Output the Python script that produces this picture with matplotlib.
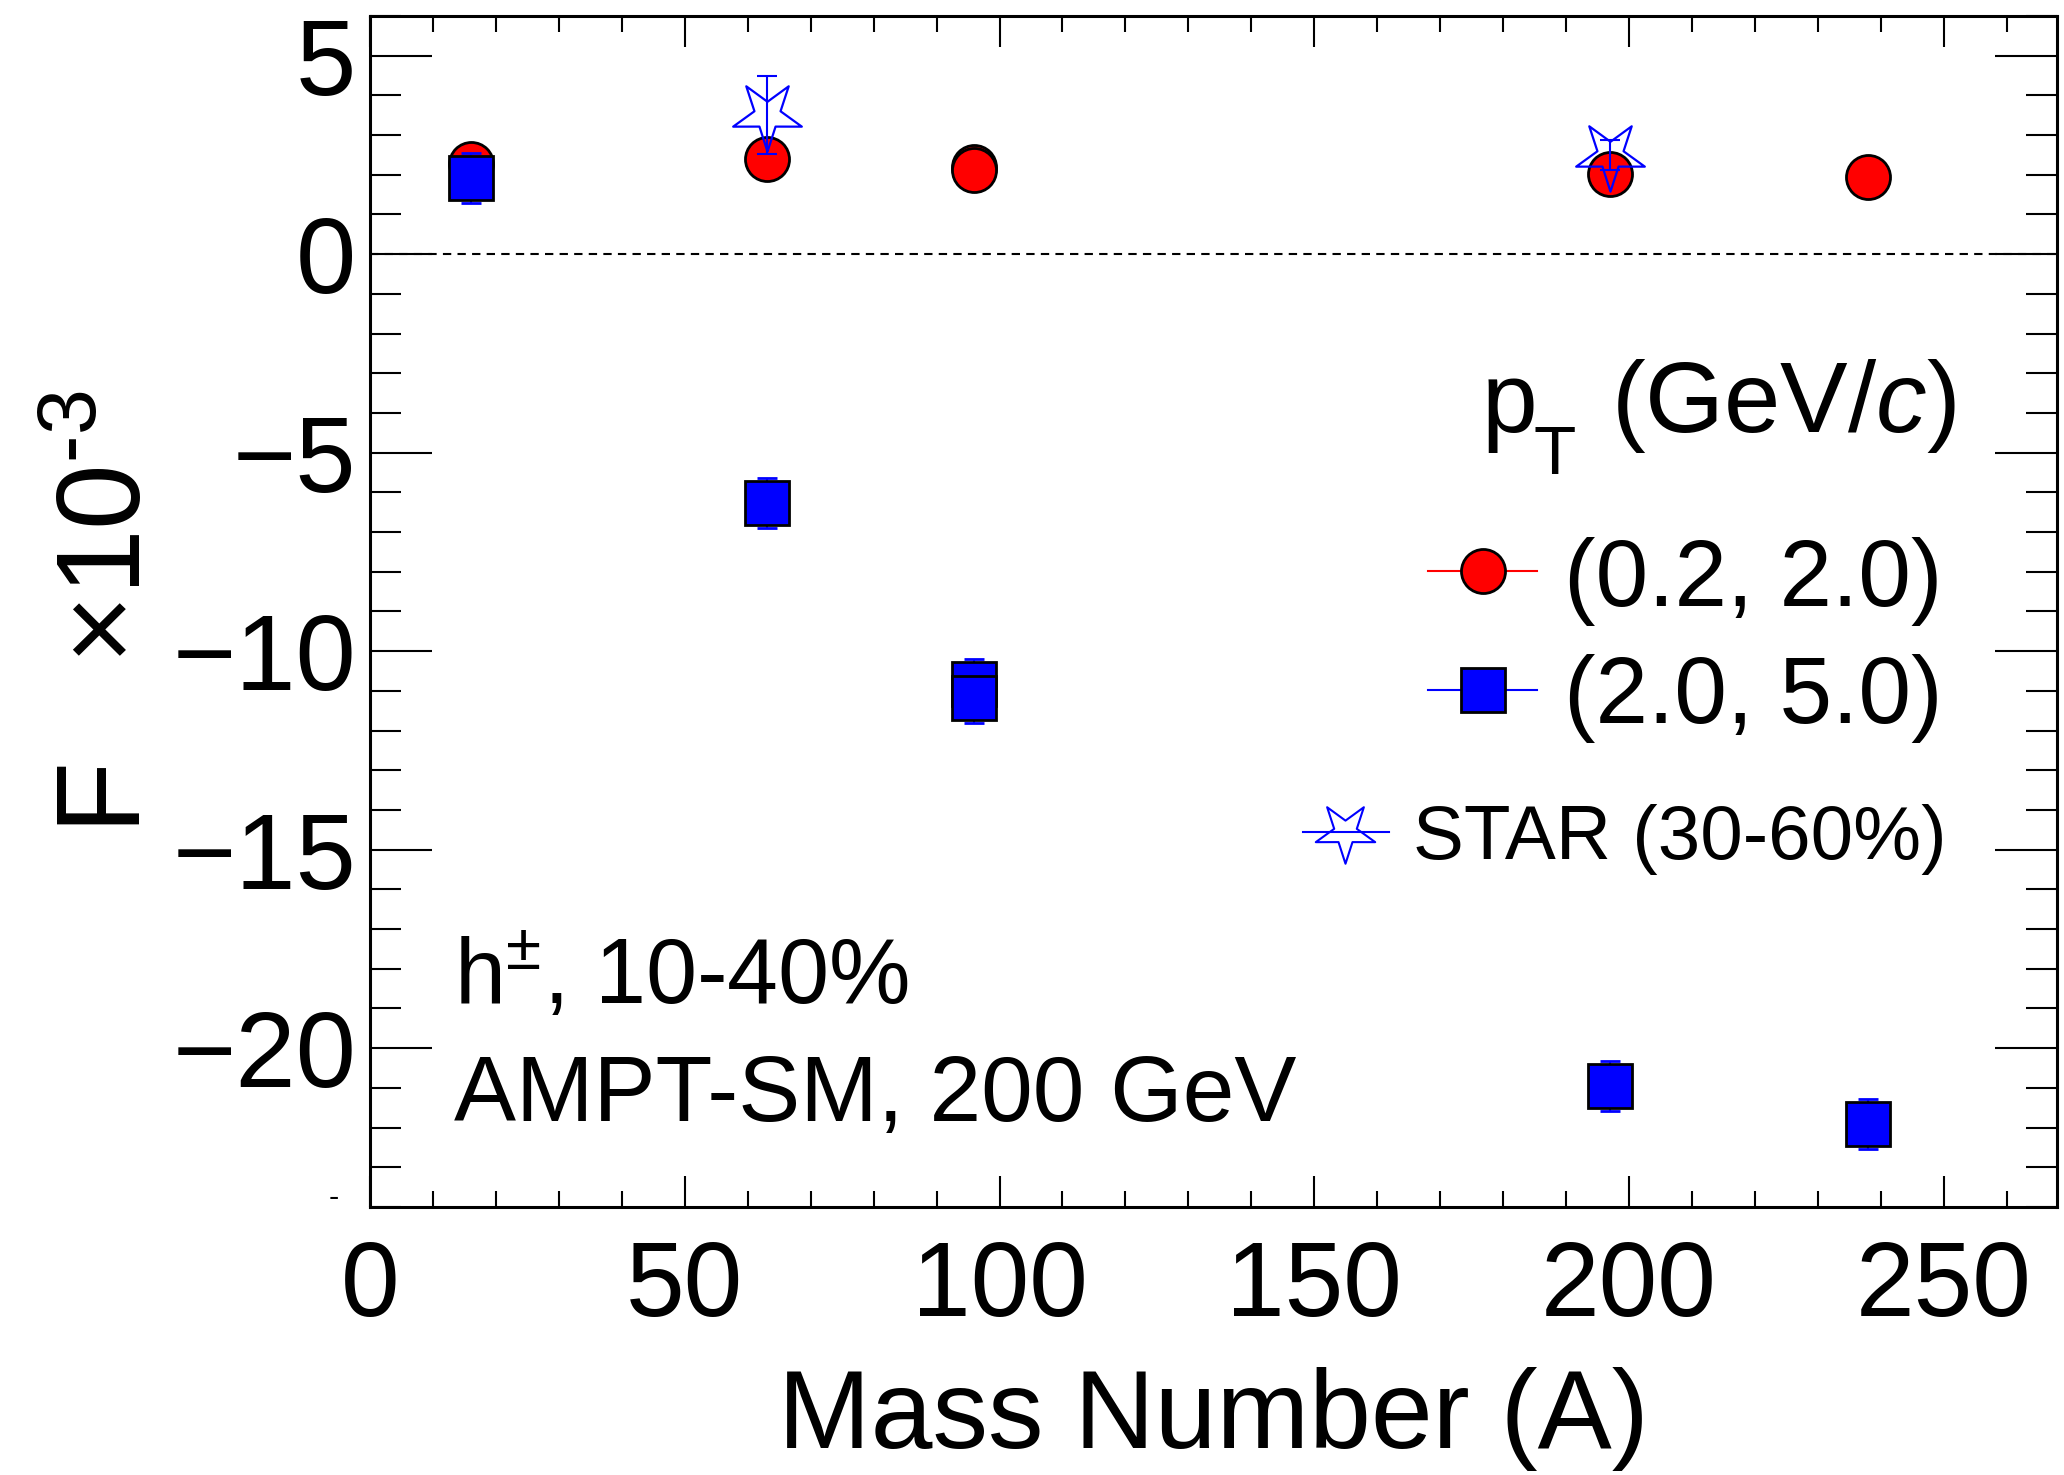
import numpy as np
import matplotlib
matplotlib.use('Agg')
import matplotlib.pyplot as plt
from matplotlib.path import Path
from matplotlib.ticker import MultipleLocator

plt.rcParams['font.family'] = ['Liberation Sans', 'DejaVu Sans']
plt.rcParams['mathtext.fontset'] = 'custom'
plt.rcParams['mathtext.rm'] = 'Liberation Sans'
plt.rcParams['mathtext.it'] = 'Liberation Sans:italic'
plt.rcParams['mathtext.sf'] = 'Liberation Sans'

# AMPT-SM, pT (0.2, 2.0)
A_low = [16, 63, 96, 96, 197, 238]
F_low = [2.26, 2.40, 2.20, 2.11, 2.01, 1.94]
F_low_err = [0.05, 0.05, 0.05, 0.05, 0.05, 0.05]

# AMPT-SM, pT (2.0, 5.0)
A_high = [16, 63, 96, 96, 197, 238]
F_high = [1.92, -6.27, -10.82, -11.19, -20.95, -21.91]
F_high_err = [0.62, 0.62, 0.62, 0.62, 0.62, 0.62]

# STAR data (30-60%)
A_star = [63, 197]
F_star = [3.50, 2.50]
F_star_err = [0.98, 0.38]

# open star, pointing down
v = Path.unit_regular_star(5, 0.38)
star = Path(v.vertices * np.array([1, -1]), v.codes)

fig = plt.figure(figsize=(20.64, 14.75), dpi=100)
ax = fig.add_axes([0.1793, 0.1817, 0.9966 - 0.1793, 0.9892 - 0.1817])

ax.axhline(0, color='k', ls=(0, (4, 3)), lw=1.5, zorder=1)

ax.errorbar(A_low, F_low, yerr=F_low_err, fmt='o', ms=31.7, mfc='red', mec='black',
            mew=2, ecolor='red', elinewidth=1.5, capsize=7, capthick=1.5, zorder=3)
ax.errorbar(A_high, F_high, yerr=F_high_err, fmt='s', ms=31.7, mfc='blue', mec='black',
            mew=2, ecolor='blue', elinewidth=1.5, capsize=7, capthick=1.5, zorder=4)
ax.errorbar(A_star, F_star, yerr=F_star_err, fmt='none', ecolor='blue',
            elinewidth=1.5, capsize=7, capthick=1.5, zorder=5)
ax.plot(A_star, F_star, ls='none', marker=star, ms=52, mfc='none', mec='blue',
        mew=1.6, zorder=6)

ax.set_xlim(0, 268)
ax.set_ylim(-24, 6)
ax.xaxis.set_major_locator(MultipleLocator(50))
ax.xaxis.set_minor_locator(MultipleLocator(10))
ax.yaxis.set_major_locator(MultipleLocator(5))
ax.yaxis.set_minor_locator(MultipleLocator(1))
ax.tick_params(which='both', direction='in', top=True, right=True, width=1.5,
               labelsize=76)
ax.tick_params(axis='x', which='major', length=22, pad=23)
ax.tick_params(axis='x', which='minor', length=11.5)
ax.tick_params(axis='y', which='major', length=44.6, pad=10, labelsize=78)
ax.tick_params(axis='y', which='minor', length=22.3)
for s in ax.spines.values():
    s.set_linewidth(2.2)

ax.set_xlabel('Mass Number (A)', fontsize=80, va='baseline')
ax.xaxis.set_label_coords(0.5, -0.2024)
ax.set_ylabel('F   ×10$^{\u20103}$', fontsize=85, ha='center', va='center')
ax.yaxis.set_label_coords(-0.154, 0.4995)

# legend, drawn by hand
tr = ax.transAxes
ax.text(0.6587, 0.651, 'p', transform=tr, fontsize=72, va='baseline')
ax.text(0.6895, 0.6155, 'T', transform=tr, fontsize=50, va='baseline')
ax.text(0.940, 0.651, r'(GeV/$\mathit{c}$)', transform=tr,
        fontsize=73, ha='right', va='baseline')
ax.plot([0.627, 0.692], [0.534, 0.534], color='red', lw=1.5, transform=tr)
ax.plot([0.660], [0.534], 'o', ms=31.7, mfc='red', mec='black', mew=2, transform=tr)
ax.text(0.708, 0.505, '(0.2, 2.0)', transform=tr, fontsize=68, va='baseline')
ax.plot([0.627, 0.692], [0.434, 0.434], color='blue', lw=1.5, transform=tr)
ax.plot([0.660], [0.434], 's', ms=31.7, mfc='blue', mec='black', mew=2, transform=tr)
ax.text(0.708, 0.4067, '(2.0, 5.0)', transform=tr, fontsize=68, va='baseline')
ax.plot([0.553, 0.604], [0.315, 0.315], color='blue', lw=1.5, transform=tr)
ax.plot([0.578], [0.315], ls='none', marker=star, ms=45, mfc='none', mec='blue',
        mew=1.5, transform=tr)
ax.text(0.618, 0.292, 'STAR (30-60%)', transform=tr, fontsize=55, va='baseline')

ax.text(0.0498, 0.171, r'h$^{\pm}$, 10-40%', transform=tr, fontsize=66, va='baseline')
ax.text(0.0498, 0.0718, 'AMPT-SM, 200 GeV', transform=tr, fontsize=67, va='baseline')

fig.text(334 / 2064, 1 - 1198 / 1475, '-', fontsize=22, ha='center', va='center')

plt.savefig('out.png', dpi=100)
